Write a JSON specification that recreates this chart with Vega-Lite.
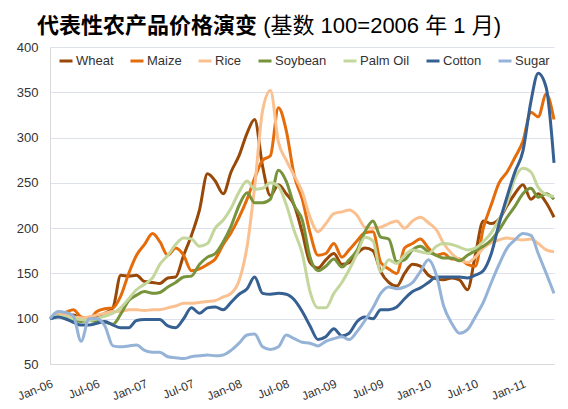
{
  "$schema": "https://vega.github.io/schema/vega-lite/v6.json",
  "width": 504,
  "height": 317,
  "autosize": {"type": "none"},
  "padding": {"left": 50, "top": 47, "right": 14, "bottom": 45},
  "background": "white",
  "title": {
    "text": "代表性农产品价格演变",
    "subtitle": "\u200b\u00a0\u00a0\u00a0\u00a0\u00a0\u00a0\u00a0\u00a0\u00a0\u00a0\u00a0\u00a0\u00a0\u00a0\u00a0\u00a0\u00a0\u00a0\u00a0\u00a0\u00a0\u00a0\u00a0\u00a0\u00a0\u00a0\u00a0\u00a0\u00a0\u00a0\u00a0\u00a0\u00a0\u00a0\u00a0\u00a0\u00a0(基数 100=2006 年 1 月)",
    "anchor": "start",
    "frame": "group",
    "dx": -13,
    "offset": 3,
    "fontSize": 22,
    "fontWeight": "bold",
    "color": "#000000",
    "font": "Liberation Sans, Noto Sans CJK SC",
    "subtitleFont": "Liberation Sans, Noto Sans CJK SC",
    "subtitleFontSize": 22,
    "subtitleFontWeight": "normal",
    "subtitleColor": "#000000",
    "subtitlePadding": -22
  },
  "config": {
    "view": {"stroke": null},
    "font": "Liberation Sans, Noto Sans CJK SC"
  },
  "data": {
    "values": [
      {"date": "2006-01-01", "Wheat": 100, "Maize": 100, "Rice": 100, "Soybean": 100, "Palm Oil": 100, "Cotton": 100, "Sugar": 100},
      {"date": "2006-02-01", "Wheat": 104, "Maize": 106, "Rice": 105, "Soybean": 103, "Palm Oil": 103, "Cotton": 102, "Sugar": 108},
      {"date": "2006-03-01", "Wheat": 102, "Maize": 107, "Rice": 104, "Soybean": 100, "Palm Oil": 102, "Cotton": 100, "Sugar": 107},
      {"date": "2006-04-01", "Wheat": 104, "Maize": 110, "Rice": 102, "Soybean": 99, "Palm Oil": 100, "Cotton": 96, "Sugar": 103},
      {"date": "2006-05-01", "Wheat": 100, "Maize": 102, "Rice": 101, "Soybean": 97, "Palm Oil": 99, "Cotton": 93, "Sugar": 75},
      {"date": "2006-06-01", "Wheat": 98, "Maize": 100, "Rice": 102, "Soybean": 98, "Palm Oil": 98, "Cotton": 93, "Sugar": 100},
      {"date": "2006-07-01", "Wheat": 103, "Maize": 108, "Rice": 104, "Soybean": 97, "Palm Oil": 100, "Cotton": 95, "Sugar": 100},
      {"date": "2006-08-01", "Wheat": 106, "Maize": 111, "Rice": 106, "Soybean": 96, "Palm Oil": 103, "Cotton": 97, "Sugar": 92},
      {"date": "2006-09-01", "Wheat": 112, "Maize": 112, "Rice": 108, "Soybean": 94, "Palm Oil": 106, "Cotton": 93, "Sugar": 70},
      {"date": "2006-10-01", "Wheat": 148, "Maize": 125, "Rice": 108, "Soybean": 105, "Palm Oil": 112, "Cotton": 90, "Sugar": 69},
      {"date": "2006-11-01", "Wheat": 147, "Maize": 150, "Rice": 110, "Soybean": 120, "Palm Oil": 122, "Cotton": 90, "Sugar": 70},
      {"date": "2006-12-01", "Wheat": 148, "Maize": 170, "Rice": 110, "Soybean": 126, "Palm Oil": 132, "Cotton": 98, "Sugar": 71},
      {"date": "2007-01-01", "Wheat": 141, "Maize": 182, "Rice": 109, "Soybean": 130, "Palm Oil": 138, "Cotton": 99, "Sugar": 65},
      {"date": "2007-02-01", "Wheat": 140, "Maize": 194, "Rice": 110, "Soybean": 128, "Palm Oil": 145, "Cotton": 99, "Sugar": 63},
      {"date": "2007-03-01", "Wheat": 139, "Maize": 185, "Rice": 110, "Soybean": 129, "Palm Oil": 160, "Cotton": 99, "Sugar": 63},
      {"date": "2007-04-01", "Wheat": 145, "Maize": 170, "Rice": 112, "Soybean": 135, "Palm Oil": 170, "Cotton": 92, "Sugar": 58},
      {"date": "2007-05-01", "Wheat": 146, "Maize": 178, "Rice": 114, "Soybean": 140, "Palm Oil": 182, "Cotton": 90, "Sugar": 57},
      {"date": "2007-06-01", "Wheat": 170, "Maize": 170, "Rice": 117, "Soybean": 146, "Palm Oil": 189, "Cotton": 100, "Sugar": 56},
      {"date": "2007-07-01", "Wheat": 192, "Maize": 153, "Rice": 117, "Soybean": 147, "Palm Oil": 188, "Cotton": 112, "Sugar": 58},
      {"date": "2007-08-01", "Wheat": 220, "Maize": 155, "Rice": 118, "Soybean": 160, "Palm Oil": 180, "Cotton": 106, "Sugar": 59},
      {"date": "2007-09-01", "Wheat": 260, "Maize": 160, "Rice": 119, "Soybean": 168, "Palm Oil": 183, "Cotton": 112, "Sugar": 60},
      {"date": "2007-10-01", "Wheat": 252, "Maize": 166, "Rice": 120, "Soybean": 172, "Palm Oil": 200, "Cotton": 113, "Sugar": 59},
      {"date": "2007-11-01", "Wheat": 238, "Maize": 182, "Rice": 124, "Soybean": 185, "Palm Oil": 209, "Cotton": 110, "Sugar": 60},
      {"date": "2007-12-01", "Wheat": 262, "Maize": 195, "Rice": 128, "Soybean": 202, "Palm Oil": 222, "Cotton": 118, "Sugar": 65},
      {"date": "2008-01-01", "Wheat": 280, "Maize": 212, "Rice": 142, "Soybean": 225, "Palm Oil": 240, "Cotton": 127, "Sugar": 73},
      {"date": "2008-02-01", "Wheat": 305, "Maize": 232, "Rice": 180, "Soybean": 239, "Palm Oil": 252, "Cotton": 133, "Sugar": 82},
      {"date": "2008-03-01", "Wheat": 320, "Maize": 255, "Rice": 245, "Soybean": 228, "Palm Oil": 243, "Cotton": 146, "Sugar": 83},
      {"date": "2008-04-01", "Wheat": 268, "Maize": 275, "Rice": 330, "Soybean": 228, "Palm Oil": 244, "Cotton": 128, "Sugar": 69},
      {"date": "2008-05-01", "Wheat": 236, "Maize": 280, "Rice": 352, "Soybean": 232, "Palm Oil": 250, "Cotton": 127, "Sugar": 66},
      {"date": "2008-06-01", "Wheat": 248, "Maize": 333, "Rice": 295, "Soybean": 264, "Palm Oil": 246, "Cotton": 128, "Sugar": 69},
      {"date": "2008-07-01", "Wheat": 238, "Maize": 308, "Rice": 275, "Soybean": 252, "Palm Oil": 226, "Cotton": 127, "Sugar": 82},
      {"date": "2008-08-01", "Wheat": 225, "Maize": 258, "Rice": 258, "Soybean": 225, "Palm Oil": 197, "Cotton": 121, "Sugar": 78},
      {"date": "2008-09-01", "Wheat": 195, "Maize": 232, "Rice": 240, "Soybean": 209, "Palm Oil": 172, "Cotton": 108, "Sugar": 74},
      {"date": "2008-10-01", "Wheat": 162, "Maize": 195, "Rice": 212, "Soybean": 168, "Palm Oil": 130, "Cotton": 92, "Sugar": 73},
      {"date": "2008-11-01", "Wheat": 156, "Maize": 170, "Rice": 196, "Soybean": 153, "Palm Oil": 112, "Cotton": 77, "Sugar": 70},
      {"date": "2008-12-01", "Wheat": 165, "Maize": 172, "Rice": 205, "Soybean": 158, "Palm Oil": 112, "Cotton": 80, "Sugar": 75},
      {"date": "2009-01-01", "Wheat": 172, "Maize": 183, "Rice": 216, "Soybean": 166, "Palm Oil": 128, "Cotton": 89, "Sugar": 78},
      {"date": "2009-02-01", "Wheat": 160, "Maize": 168, "Rice": 218, "Soybean": 157, "Palm Oil": 140, "Cotton": 81, "Sugar": 80},
      {"date": "2009-03-01", "Wheat": 162, "Maize": 176, "Rice": 220, "Soybean": 165, "Palm Oil": 154, "Cotton": 84, "Sugar": 77},
      {"date": "2009-04-01", "Wheat": 172, "Maize": 186, "Rice": 214, "Soybean": 176, "Palm Oil": 172, "Cotton": 97, "Sugar": 86},
      {"date": "2009-05-01", "Wheat": 178, "Maize": 195, "Rice": 201, "Soybean": 196, "Palm Oil": 190, "Cotton": 102, "Sugar": 98},
      {"date": "2009-06-01", "Wheat": 175, "Maize": 196, "Rice": 200, "Soybean": 208, "Palm Oil": 186, "Cotton": 100, "Sugar": 112},
      {"date": "2009-07-01", "Wheat": 152, "Maize": 162, "Rice": 201, "Soybean": 190, "Palm Oil": 152, "Cotton": 110, "Sugar": 128},
      {"date": "2009-08-01", "Wheat": 140, "Maize": 155, "Rice": 205, "Soybean": 188, "Palm Oil": 165, "Cotton": 110, "Sugar": 135},
      {"date": "2009-09-01", "Wheat": 136, "Maize": 150, "Rice": 208, "Soybean": 163, "Palm Oil": 161, "Cotton": 113, "Sugar": 133},
      {"date": "2009-10-01", "Wheat": 150, "Maize": 178, "Rice": 200, "Soybean": 165, "Palm Oil": 170, "Cotton": 122, "Sugar": 135},
      {"date": "2009-11-01", "Wheat": 160, "Maize": 183, "Rice": 208, "Soybean": 176, "Palm Oil": 176, "Cotton": 130, "Sugar": 140},
      {"date": "2009-12-01", "Wheat": 158, "Maize": 188, "Rice": 212, "Soybean": 180, "Palm Oil": 174, "Cotton": 134, "Sugar": 152},
      {"date": "2010-01-01", "Wheat": 148, "Maize": 178, "Rice": 206, "Soybean": 174, "Palm Oil": 172, "Cotton": 140, "Sugar": 165},
      {"date": "2010-02-01", "Wheat": 144, "Maize": 170, "Rice": 198, "Soybean": 170, "Palm Oil": 180, "Cotton": 146, "Sugar": 148},
      {"date": "2010-03-01", "Wheat": 143, "Maize": 172, "Rice": 183, "Soybean": 167, "Palm Oil": 183, "Cotton": 146, "Sugar": 114},
      {"date": "2010-04-01", "Wheat": 145, "Maize": 166, "Rice": 172, "Soybean": 167, "Palm Oil": 182, "Cotton": 146, "Sugar": 95},
      {"date": "2010-05-01", "Wheat": 143, "Maize": 166, "Rice": 165, "Soybean": 164, "Palm Oil": 179, "Cotton": 146, "Sugar": 84},
      {"date": "2010-06-01", "Wheat": 132, "Maize": 160, "Rice": 162, "Soybean": 170, "Palm Oil": 176, "Cotton": 145, "Sugar": 88},
      {"date": "2010-07-01", "Wheat": 170, "Maize": 158, "Rice": 168, "Soybean": 175, "Palm Oil": 178, "Cotton": 148, "Sugar": 102},
      {"date": "2010-08-01", "Wheat": 208, "Maize": 200, "Rice": 178, "Soybean": 180, "Palm Oil": 185, "Cotton": 153, "Sugar": 118},
      {"date": "2010-09-01", "Wheat": 205, "Maize": 226, "Rice": 184, "Soybean": 187, "Palm Oil": 195, "Cotton": 172, "Sugar": 140},
      {"date": "2010-10-01", "Wheat": 210, "Maize": 250, "Rice": 187, "Soybean": 198, "Palm Oil": 210, "Cotton": 205, "Sugar": 160},
      {"date": "2010-11-01", "Wheat": 225, "Maize": 262, "Rice": 189, "Soybean": 212, "Palm Oil": 228, "Cotton": 235, "Sugar": 178},
      {"date": "2010-12-01", "Wheat": 238, "Maize": 278, "Rice": 188, "Soybean": 224, "Palm Oil": 255, "Cotton": 262, "Sugar": 187},
      {"date": "2011-01-01", "Wheat": 248, "Maize": 296, "Rice": 187, "Soybean": 238, "Palm Oil": 266, "Cotton": 285, "Sugar": 194},
      {"date": "2011-02-01", "Wheat": 232, "Maize": 328, "Rice": 188, "Soybean": 244, "Palm Oil": 262, "Cotton": 340, "Sugar": 192},
      {"date": "2011-03-01", "Wheat": 238, "Maize": 323, "Rice": 183, "Soybean": 234, "Palm Oil": 245, "Cotton": 371, "Sugar": 172},
      {"date": "2011-04-01", "Wheat": 228, "Maize": 348, "Rice": 176, "Soybean": 238, "Palm Oil": 237, "Cotton": 355, "Sugar": 150},
      {"date": "2011-05-01", "Wheat": 212, "Maize": 320, "Rice": 174, "Soybean": 232, "Palm Oil": 235, "Cotton": 272, "Sugar": 128}
    ]
  },
  "transform": [
    {"fold": ["Wheat", "Maize", "Rice", "Soybean", "Palm Oil", "Cotton", "Sugar"], "as": ["series", "value"]}
  ],
  "mark": {"type": "line", "strokeWidth": 3, "interpolate": "monotone"},
  "encoding": {
    "x": {
      "field": "date",
      "type": "temporal",
      "scale": {
        "type": "utc",
        "nice": false,
        "domain": [
          {"year": 2006, "month": 1, "date": 1, "utc": true},
          {"year": 2011, "month": 5, "date": 1, "utc": true}
        ]
      },
      "axis": {
        "title": null,
        "format": "%b-%y",
        "tickCount": {"interval": "month", "step": 6},
        "labelAngle": -22,
        "labelAlign": "right",
        "labelBaseline": "top",
        "labelPadding": 14,
        "labelFontSize": 12,
        "labelColor": "#333333",
        "labelOverlap": false,
        "labelFlush": false,
        "ticks": false,
        "grid": false,
        "domainColor": "#D9D9D9"
      }
    },
    "y": {
      "field": "value",
      "type": "quantitative",
      "scale": {"domain": [50, 400], "nice": false, "zero": false},
      "axis": {
        "title": null,
        "values": [50, 100, 150, 200, 250, 300, 350, 400],
        "labelFontSize": 13,
        "labelColor": "#333333",
        "labelPadding": 12,
        "ticks": false,
        "grid": true,
        "gridColor": "#DCE1EC",
        "domainColor": "#D9D9D9"
      }
    },
    "color": {
      "field": "series",
      "type": "nominal",
      "scale": {
        "domain": ["Wheat", "Maize", "Rice", "Soybean", "Palm Oil", "Cotton", "Sugar"],
        "range": ["#984807", "#E46C0A", "#FAC090", "#77933C", "#C3D69B", "#376092", "#95B3D7"]
      },
      "legend": {
        "title": null,
        "orient": "none",
        "legendX": 8,
        "legendY": 6,
        "direction": "horizontal",
        "columns": 7,
        "symbolType": "stroke",
        "symbolSize": 169,
        "symbolStrokeWidth": 3,
        "labelFontSize": 13,
        "labelColor": "#333333",
        "labelOffset": 2,
        "columnPadding": 10
      }
    }
  }
}
